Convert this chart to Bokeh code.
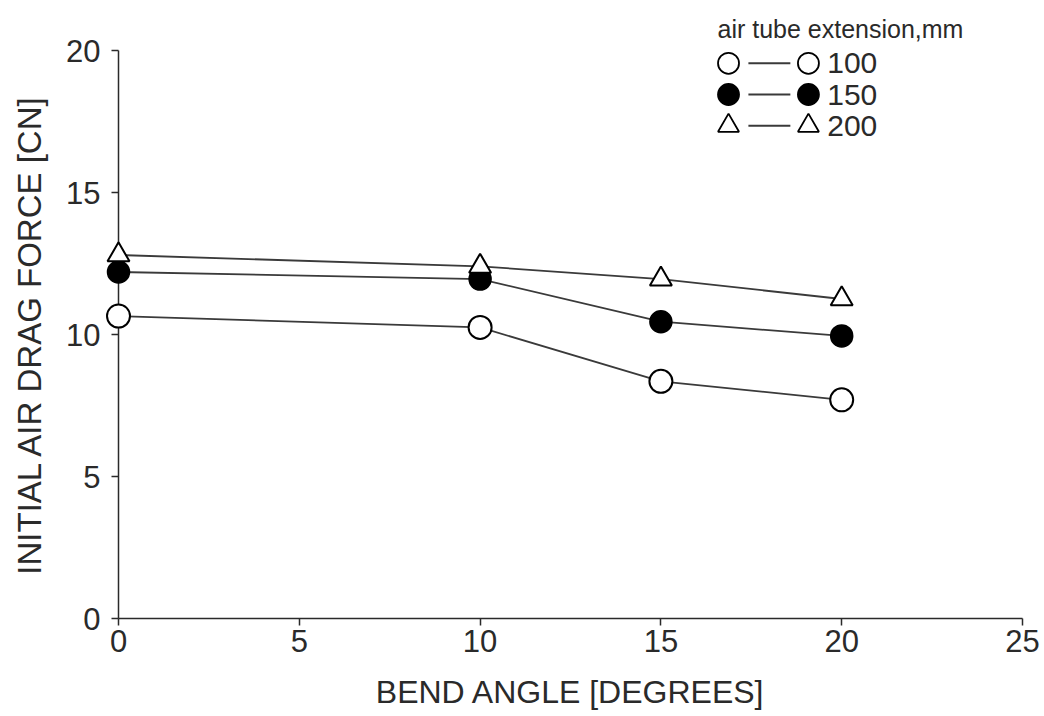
from bokeh.plotting import figure
from bokeh.models import ColumnDataSource, Range1d, FixedTicker
from bokeh.core.properties import value
from bokeh.embed import file_html
from bokeh.resources import INLINE

# ---- data ----
bend_angle = [0, 10, 15, 20]
force_100 = [10.65, 10.25, 8.35, 7.7]
force_150 = [12.2, 11.95, 10.45, 9.95]
force_200 = [12.8, 12.4, 11.95, 11.25]

x_ticks = [0, 5, 10, 15, 20, 25]
y_ticks = [0, 5, 10, 15, 20]

legend_title = "air tube extension,mm"
legend_labels = ["100", "150", "200"]

FONT = "Liberation Sans"
INK = "#2a2a2a"
LINE = "#3a3a3a"

p = figure(width=1044, height=716, output_backend="svg", toolbar_location=None,
           x_range=Range1d(0, 25), y_range=Range1d(0, 20),
           min_border_left=118, min_border_right=22, min_border_top=50, min_border_bottom=98)
p.outline_line_color = None
p.grid.visible = False
p.background_fill_color = "white"
p.border_fill_color = "white"

p.title.text = legend_title
p.title.align = "left"
p.title.offset = 599
p.title.standoff = 16
p.title.text_font = FONT
p.title.text_font_size = "25px"
p.title.text_font_style = "normal"
p.title.text_color = INK

for ax in (p.xaxis[0], p.yaxis[0]):
    ax.axis_line_color = INK
    ax.axis_line_width = 1.5
    ax.major_tick_line_color = INK
    ax.major_tick_line_width = 1.5
    ax.major_tick_out = 7
    ax.major_tick_in = 0
    ax.minor_tick_line_color = None
    ax.major_label_text_font = FONT
    ax.major_label_text_font_size = "31px"
    ax.major_label_text_color = INK
    ax.axis_label_text_font = FONT
    ax.axis_label_text_font_style = "normal"
    ax.axis_label_text_color = INK

p.xaxis.ticker = FixedTicker(ticks=x_ticks)
p.yaxis.ticker = FixedTicker(ticks=y_ticks)
p.xaxis.axis_label = "BEND ANGLE [DEGREES]"
p.yaxis.axis_label = "INITIAL AIR DRAG FORCE [CN]"
p.xaxis.axis_label_text_font_size = "32px"
p.yaxis.axis_label_text_font_size = "33px"
p.xaxis.major_label_standoff = 4
p.yaxis.major_label_standoff = 11
p.xaxis.axis_label_standoff = 19
p.yaxis.axis_label_standoff = 15

src = ColumnDataSource(dict(x=bend_angle, a=force_100, b=force_150, c=force_200))

for col in ("a", "b", "c"):
    p.line("x", col, source=src, line_color=LINE, line_width=1.8)

p.scatter("x", "a", source=src, marker="circle", size=23, fill_color="white",
          line_color="black", line_width=2, level="overlay")
p.scatter("x", "b", source=src, marker="circle", size=22, fill_color="black",
          line_color="black", line_width=1.5, level="overlay")
p.scatter("x", "c", source=src, marker="triangle", size=22, fill_color="white",
          line_color="black", line_width=2, level="overlay")

# ---- legend (manual: marker — line — marker label) ----
leg_y = [19.55, 18.45, 17.35]
leg_x1, leg_x2 = 16.87, 19.08
leg_src = ColumnDataSource(dict(y=leg_y, lx=[19.6] * 3, txt=legend_labels,
                                l0=[17.42] * 3, l1=[18.58] * 3))
p.segment(x0="l0", y0="y", x1="l1", y1="y", source=leg_src, line_color=LINE, line_width=2)
markers = ["circle", "circle", "triangle"]
fills = ["white", "black", "white"]
for i in range(3):
    for xx in (leg_x1, leg_x2):
        p.scatter([xx], [leg_y[i]], marker=markers[i], size=21, fill_color=fills[i],
                  line_color="black", line_width=1.8)
p.text(x="lx", y="y", text="txt", source=leg_src, text_font=value(FONT),
       text_font_size="30px", text_baseline="middle", text_align="left", text_color=INK)

open("out.html", "w").write(file_html(p, INLINE))
